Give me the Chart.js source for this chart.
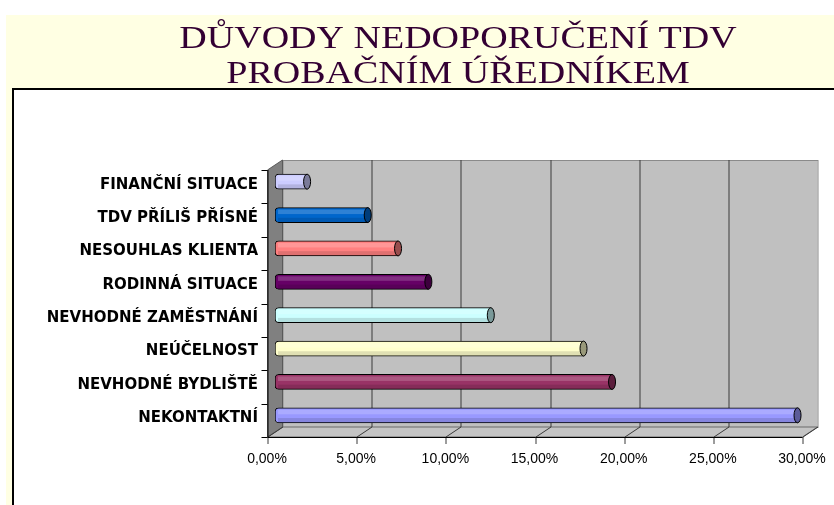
<!DOCTYPE html>
<html><head><meta charset="utf-8">
<script src="https://cdn.jsdelivr.net/npm/chart.js@4.4.1/dist/chart.umd.min.js"></script>
<style>html,body{margin:0;padding:0;background:#fff}#wrap{width:834px;height:505px;position:relative}</style>
</head><body><div id="wrap"><canvas id="c" width="834" height="505"></canvas></div>
<script>
const titleLines = ['DŮVODY NEDOPORUČENÍ TDV', 'PROBAČNÍM ÚŘEDNÍKEM'];
const categories = ['FINANČNÍ SITUACE','TDV PŘÍLIŠ PŘÍSNÉ','NESOUHLAS KLIENTA','RODINNÁ SITUACE','NEVHODNÉ ZAMĚSTNÁNÍ','NEÚČELNOST','NEVHODNÉ BYDLIŠTĚ','NEKONTAKTNÍ'];
const values = [1.8, 5.2, 6.9, 8.6, 12.1, 17.3, 18.9, 29.3];
const barColors = ['#ccccff','#0066cc','#ff8080','#660066','#ccffff','#ffffcc','#993366','#9999ff'];
const xTicks = [0, 5, 10, 15, 20, 25, 30];

function shade(hex, f){
  const n = parseInt(hex.slice(1),16);
  const r=(n>>16)&255,g=(n>>8)&255,b=n&255;
  return 'rgb('+Math.round(r*f)+','+Math.round(g*f)+','+Math.round(b*f)+')';
}
const FX=-7.5, FY=5, BX=7.5, BY=-5; // depth offsets (front / back)

const scene = {
  id:'scene',
  beforeDraw(chart){
    const ctx=chart.ctx, a=chart.chartArea, xs=chart.scales.x;
    ctx.save();
    ctx.fillStyle='#fff'; ctx.fillRect(0,0,834,505);
    ctx.fillStyle='#ffffe3'; ctx.fillRect(6,15,828,490);
    ctx.fillStyle='#fff'; ctx.fillRect(12,88,822,417);
    ctx.strokeStyle='#000'; ctx.lineWidth=2;
    ctx.beginPath(); ctx.moveTo(13,505); ctx.lineTo(13,89); ctx.lineTo(834,89); ctx.stroke();
    // title (slightly condensed vertically)
    ctx.fillStyle='#330033'; ctx.font='38px "Liberation Serif"'; ctx.textAlign='center'; ctx.textBaseline='alphabetic';
    [[titleLines[0],48],[titleLines[1],83]].forEach(([t,by])=>{
      ctx.save(); ctx.setTransform(1,0,0,0.85,0,by*0.15); ctx.fillText(t,458,by); ctx.restore();
    });
    const L=a.left,R=a.right,T=a.top,B=a.bottom;
    // back wall
    ctx.fillStyle='#c0c0c0';
    ctx.fillRect(L+BX,T+BY,R-L,B-T);
    ctx.strokeStyle='#8a8a8a'; ctx.lineWidth=1;
    ctx.strokeRect(L+BX+0.5,T+BY+0.5,R-L,B-T);
    // floor
    ctx.fillStyle='#c4c4c4';
    ctx.beginPath(); ctx.moveTo(L+FX,B+FY); ctx.lineTo(L+BX,B+BY); ctx.lineTo(R+BX,B+BY); ctx.lineTo(R+FX,B+FY); ctx.closePath(); ctx.fill();
    ctx.strokeStyle='#6a6a6a'; ctx.stroke();
    // side wall
    ctx.fillStyle='#808080';
    ctx.beginPath(); ctx.moveTo(L+FX,T+FY); ctx.lineTo(L+BX,T+BY); ctx.lineTo(L+BX,B+BY); ctx.lineTo(L+FX,B+FY); ctx.closePath(); ctx.fill();
    ctx.strokeStyle='#5a5a5a'; ctx.stroke();
    // grid on back wall + floor
    ctx.strokeStyle='#3a3a3a'; ctx.lineWidth=1;
    xTicks.forEach(v=>{
      const x=Math.round(xs.getPixelForValue(v))+0.5;
      ctx.beginPath();
      if(v>0 && v<30){ ctx.moveTo(x+BX,T+BY); ctx.lineTo(x+BX,B+BY); }
      ctx.moveTo(x+BX,B+BY); ctx.lineTo(x+FX,B+FY); ctx.lineTo(x+FX,B+FY+7);
      ctx.stroke();
    });
    // front axes
    ctx.strokeStyle='#000';
    ctx.beginPath(); ctx.moveTo(L+FX+0.5,T+FY); ctx.lineTo(L+FX+0.5,B+FY+0.5); ctx.lineTo(R+FX,B+FY+0.5); ctx.stroke();
    const n=categories.length, step=(B-T)/n;
    for(let i=0;i<=n;i++){
      const y=Math.round(T+FY+i*step)+0.5;
      ctx.beginPath(); ctx.moveTo(L+FX-6,y); ctx.lineTo(L+FX,y); ctx.stroke();
    }
    ctx.restore();
  },
  afterDatasetsDraw(chart){
    const ctx=chart.ctx, meta=chart.getDatasetMeta(0);
    ctx.save();
    meta.data.forEach((bar,i)=>{
      const h=bar.height, y=bar.y, x=bar.x;
      ctx.fillStyle='rgba(255,255,255,0.18)';
      ctx.fillRect(bar.base+3,y-h/2+2,x-bar.base-3,h*0.3);
      ctx.fillStyle='rgba(0,0,0,0.12)';
      ctx.fillRect(bar.base+3,y+h*0.18,x-bar.base-3,h*0.3);
      ctx.beginPath(); ctx.ellipse(x,y,3.5,h/2,0,0,Math.PI*2);
      ctx.fillStyle=shade(barColors[i],0.6); ctx.fill();
      ctx.strokeStyle='#000'; ctx.lineWidth=1; ctx.stroke();
    });
    ctx.restore();
  }
};

new Chart(document.getElementById('c'),{
  type:'bar',
  data:{labels:categories,datasets:[{data:values,backgroundColor:barColors,borderColor:'#000',borderWidth:1,barThickness:15,borderSkipped:false,borderRadius:{topLeft:4,bottomLeft:4,topRight:0,bottomRight:0}}]},
  options:{
    indexAxis:'y',responsive:false,animation:false,devicePixelRatio:1,
    layout:{padding:{top:165,right:24,bottom:0,left:0}},
    plugins:{legend:{display:false},tooltip:{enabled:false},title:{display:false}},
    scales:{
      x:{min:0,max:30,border:{display:false},grid:{display:false,drawTicks:false},
        afterFit(s){s.height=73;s.paddingLeft=0;s.paddingRight=0;},
        ticks:{stepSize:5,padding:19,labelOffset:-8,color:'#000',font:{family:'"Liberation Sans"',size:14},
          callback:v=>v.toFixed(2).replace('.',',')+'%'}},
      y:{border:{display:false},grid:{display:false,drawTicks:false},
        afterFit(s){s.width=275;s.paddingTop=0;s.paddingBottom=0;},
        ticks:{padding:17,labelOffset:3,color:'#000',font:{family:'"DejaVu Sans"',size:15,weight:'bold'}}}
    }
  },
  plugins:[scene]
});
</script></body></html>
